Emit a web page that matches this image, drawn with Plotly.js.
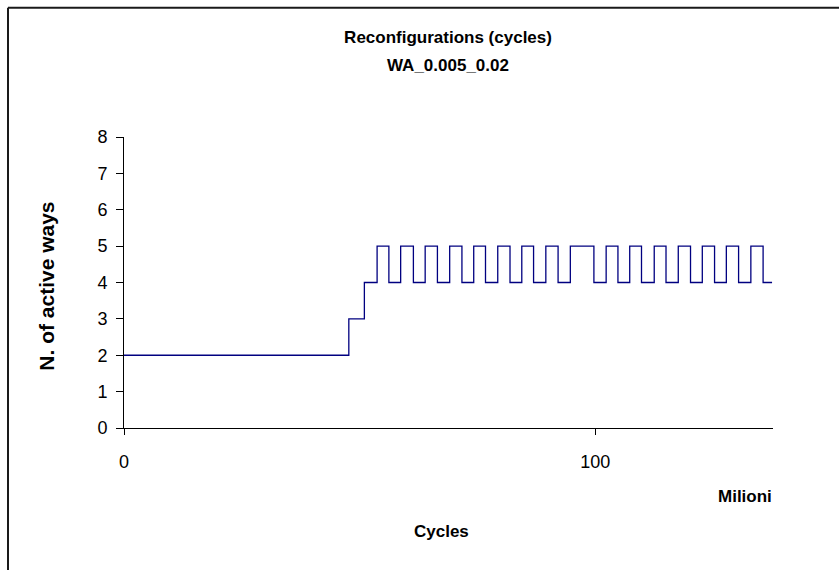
<!DOCTYPE html>
<html>
<head>
<meta charset="utf-8">
<script src="https://cdn.plot.ly/plotly-3.0.1.min.js"></script>
<style>
  html, body { margin: 0; padding: 0; background: #ffffff; }
  #chart { width: 839px; height: 570px; }
</style>
</head>
<body>
<div id="chart"></div>
<script>
// Times (millions of cycles) at which the number of active ways changes
var times = [0, 47.7, 51.0, 53.7, 56.2, 58.7, 61.4, 63.9, 66.5, 69.1, 71.7, 74.2, 76.7,
             79.3, 81.9, 84.4, 86.9, 89.5, 92.1, 94.7, 99.7, 102.3, 104.8, 107.3, 109.8,
             112.5, 115.0, 117.6, 120.2, 122.7, 125.3, 127.8, 130.4, 133.0, 135.6, 137.5];
var activeWays = [2, 3, 4, 5, 4, 5, 4, 5, 4, 5, 4, 5, 4,
                  5, 4, 5, 4, 5, 4, 5, 4, 5, 4, 5, 4,
                  5, 4, 5, 4, 5, 4, 5, 4, 5, 4, 4];
var xTickVals = [0, 100];
var xTickText = ['0', '100'];
var yTickVals = [0, 1, 2, 3, 4, 5, 6, 7, 8];

var FONT = 'Liberation Sans, Arial, sans-serif';

var trace = {
  x: times,
  y: activeWays,
  type: 'scatter',
  mode: 'lines',
  line: { shape: 'hv', color: '#000080', width: 1.3 },
  hoverinfo: 'x+y'
};

var layout = {
  width: 839,
  height: 570,
  margin: { l: 124, r: 66, t: 137, b: 142 },
  paper_bgcolor: '#ffffff',
  plot_bgcolor: '#ffffff',
  showlegend: false,
  font: { family: FONT, color: '#000000', size: 17 },
  title: {
    text: '<b>Reconfigurations (cycles)</b>',
    font: { family: FONT, size: 17, color: '#000000' },
    x: 0.534, xanchor: 'center',
    y: 1 - 37 / 570, yanchor: 'middle', yref: 'container'
  },
  xaxis: {
    range: [0, 137.7],
    tickmode: 'array',
    tickvals: xTickVals,
    ticktext: xTickText,
    ticks: 'outside',
    ticklen: 6,
    tickcolor: '#000000',
    ticklabelstandoff: 11,
    showline: true,
    linecolor: '#000000',
    linewidth: 1,
    showgrid: false,
    zeroline: false,
    tickfont: { family: FONT, size: 18 },
    title: { text: '' }
  },
  yaxis: {
    range: [0, 8],
    tickmode: 'array',
    tickvals: yTickVals,
    ticks: 'outside',
    ticklen: 7,
    tickcolor: '#000000',
    ticklabelstandoff: 5,
    showline: true,
    linecolor: '#000000',
    linewidth: 1,
    showgrid: false,
    zeroline: false,
    tickfont: { family: FONT, size: 18 },
    title: { text: '' }
  },
  annotations: [
    { text: '<b>WA_0.005_0.02</b>', xref: 'paper', yref: 'paper',
      x: 0.499, y: (428.3 - 66) / 291, xanchor: 'center', yanchor: 'middle',
      showarrow: false, font: { family: FONT, size: 17 } },
    { text: '<b>N. of active ways</b>', xref: 'paper', yref: 'paper',
      x: (47 - 124) / 649, y: (428.3 - 287) / 291, xanchor: 'center', yanchor: 'middle',
      textangle: -90, showarrow: false, font: { family: FONT, size: 21 } },
    { text: '<b>Cycles</b>', xref: 'paper', yref: 'paper',
      x: (441 - 124) / 649, y: (428.3 - 532) / 291, xanchor: 'center', yanchor: 'middle',
      showarrow: false, font: { family: FONT, size: 17 } },
    { text: '<b>Milioni</b>', xref: 'paper', yref: 'paper',
      x: (774 - 124) / 649, y: (428.3 - 497) / 291, xanchor: 'right', yanchor: 'middle',
      showarrow: false, font: { family: FONT, size: 17 } }
  ],
  shapes: [
    { type: 'line', xref: 'paper', yref: 'paper',
      x0: (8 - 124) / 649, x1: (8 - 124) / 649, y0: (428.3 - 8) / 291, y1: (428.3 - 580) / 291,
      line: { color: '#1a1a1a', width: 2 } },
    { type: 'line', xref: 'paper', yref: 'paper',
      x0: (8 - 124) / 649, x1: (850 - 124) / 649, y0: (428.3 - 8) / 291, y1: (428.3 - 8) / 291,
      line: { color: '#1a1a1a', width: 2 } }
  ]
};

Plotly.newPlot('chart', [trace], layout, { displayModeBar: false, staticPlot: true });
</script>
</body>
</html>
